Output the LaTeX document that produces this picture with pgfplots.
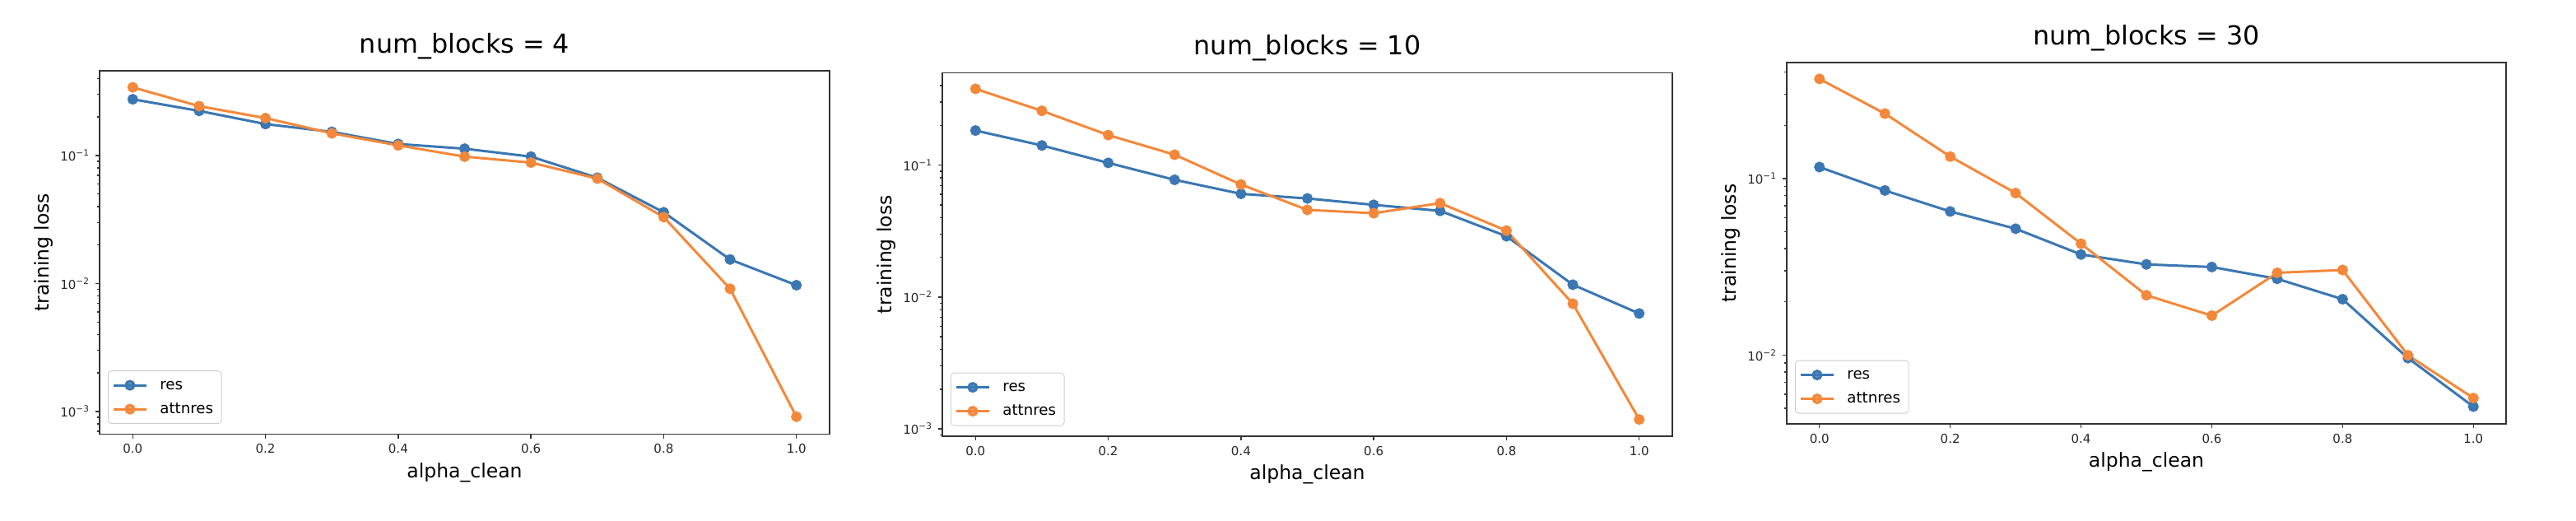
\documentclass[border=0pt]{standalone}
\usepackage{fontspec}
\setmainfont{DejaVu Sans}
\usepackage{pgfplots}
\pgfplotsset{compat=1.18}
\definecolor{tabblue}{HTML}{3A77B3}
\definecolor{taborange}{HTML}{F4883A}
\pgfplotsset{
 mypanel/.style={
  scale only axis, width=443.5pt, height=220.75pt,
  xmin=-0.05, xmax=1.05,
  axis line style={line width=0.9pt, black!80},
  tick align=outside, xtick pos=bottom, ytick pos=left,
  major tick length=2.5pt, minor tick length=1.6pt,
  every tick/.style={black!80, line width=0.7pt},
  xtick={0,0.2,0.4,0.6,0.8,1},
  xticklabels={0.0,0.2,0.4,0.6,0.8,1.0},
  tick label style={font=\fontsize{7.5}{9}\selectfont, black!85},
  title style={font=\fontsize{15.9}{19}\selectfont, at={(axis description cs:0.5,1)}, anchor=base, yshift=5pt},
  xlabel={alpha\_clean}, ylabel={training loss},
  label style={font=\fontsize{11.75}{14}\selectfont},
  xlabel style={at={(axis description cs:0.5,0)}, anchor=base, yshift=-26.25pt},
  ylabel style={at={([xshift=-31pt]axis description cs:0,0.5)}, anchor=base},
  legend style={at={(axis description cs:0,0)}, anchor=south west, xshift=5pt, yshift=6.25pt,
    draw=black!20, rounded corners=2pt, fill=white, fill opacity=0.8, text opacity=1,
    font=\fontsize{9.1}{11}\selectfont, inner xsep=2.5pt, inner ysep=4.4pt, row sep=5.8pt,
    nodes={inner xsep=2.5pt, inner ysep=0pt, text height=6.8pt, text depth=1.9pt},
    /tikz/every odd column/.append style={column sep=5pt}},
  legend cell align=left,
  legend image code/.code={\draw[mark repeat=2, mark phase=2, ##1] plot coordinates {(0pt,0pt) (10pt,0pt) (20pt,0pt)};},
 },
 myres/.style={color=tabblue, line width=1.5pt, mark=*, mark size=2.5pt, mark options={solid, fill=tabblue}},
 myatt/.style={color=taborange, line width=1.5pt, mark=*, mark size=2.5pt, mark options={solid, fill=taborange}},
}
\begin{document}
\begin{tikzpicture}
\path[use as bounding box] (0,0) rectangle (1565pt,316pt);
% panel 1
\begin{axis}[ymode=log, mypanel, at={(60.5pt,52.25pt)}, anchor=south west,
  ymin=6.65e-4, ymax=0.459,
  ytick={0.001,0.01,0.1},
  yticklabels={10\textsuperscript{−3},10\textsuperscript{−2},10\textsuperscript{−1}},
  minor ytick={7e-4,8e-4,9e-4,2e-3,3e-3,4e-3,5e-3,6e-3,7e-3,8e-3,9e-3,0.02,0.03,0.04,0.05,0.06,0.07,0.08,0.09,0.2,0.3,0.4},
  title={num\_blocks = 4}]
\addplot[myres] coordinates {(0,0.275)(0.1,0.223)(0.2,0.176)(0.3,0.153)(0.4,0.123)(0.5,0.113)(0.6,0.098)(0.7,0.067)(0.8,0.036)(0.9,0.0154)(1.0,0.0097)};
\addlegendentry{res}
\addplot[myatt] coordinates {(0,0.341)(0.1,0.243)(0.2,0.196)(0.3,0.149)(0.4,0.120)(0.5,0.098)(0.6,0.088)(0.7,0.066)(0.8,0.033)(0.9,0.0091)(1.0,0.00091)};
\addlegendentry{attnres}
\end{axis}
% panel 2
\begin{axis}[ymode=log, mypanel, at={(572.5pt,51pt)}, anchor=south west,
  ymin=8.8e-4, ymax=0.501,
  ytick={0.001,0.01,0.1},
  yticklabels={10\textsuperscript{−3},10\textsuperscript{−2},10\textsuperscript{−1}},
  minor ytick={9e-4,2e-3,3e-3,4e-3,5e-3,6e-3,7e-3,8e-3,9e-3,0.02,0.03,0.04,0.05,0.06,0.07,0.08,0.09,0.2,0.3,0.4},
  title={num\_blocks = 10}]
\addplot[myres] coordinates {(0,0.183)(0.1,0.141)(0.2,0.104)(0.3,0.0774)(0.4,0.0606)(0.5,0.0559)(0.6,0.050)(0.7,0.045)(0.8,0.0289)(0.9,0.0124)(1.0,0.0075)};
\addlegendentry{res}
\addplot[myatt] coordinates {(0,0.379)(0.1,0.258)(0.2,0.169)(0.3,0.120)(0.4,0.0713)(0.5,0.0458)(0.6,0.0432)(0.7,0.0515)(0.8,0.0319)(0.9,0.0089)(1.0,0.00118)};
\addlegendentry{attnres}
\end{axis}
% panel 3
\begin{axis}[ymode=log, mypanel, at={(1085.5pt,58.5pt)}, anchor=south west, width=437pt, height=219.5pt,
  ymin=0.00407, ymax=0.4535,
  ytick={0.01,0.1},
  yticklabels={10\textsuperscript{−2},10\textsuperscript{−1}},
  minor ytick={5e-3,6e-3,7e-3,8e-3,9e-3,0.02,0.03,0.04,0.05,0.06,0.07,0.08,0.09,0.2,0.3,0.4},
  title={num\_blocks = 30}]
\addplot[myres] coordinates {(0,0.116)(0.1,0.0855)(0.2,0.065)(0.3,0.0519)(0.4,0.0371)(0.5,0.0326)(0.6,0.0315)(0.7,0.027)(0.8,0.0207)(0.9,0.0096)(1.0,0.0051)};
\addlegendentry{res}
\addplot[myatt] coordinates {(0,0.3665)(0.1,0.233)(0.2,0.133)(0.3,0.0826)(0.4,0.0427)(0.5,0.0218)(0.6,0.0167)(0.7,0.0292)(0.8,0.0303)(0.9,0.00996)(1.0,0.0057)};
\addlegendentry{attnres}
\end{axis}
\end{tikzpicture}
\end{document}
